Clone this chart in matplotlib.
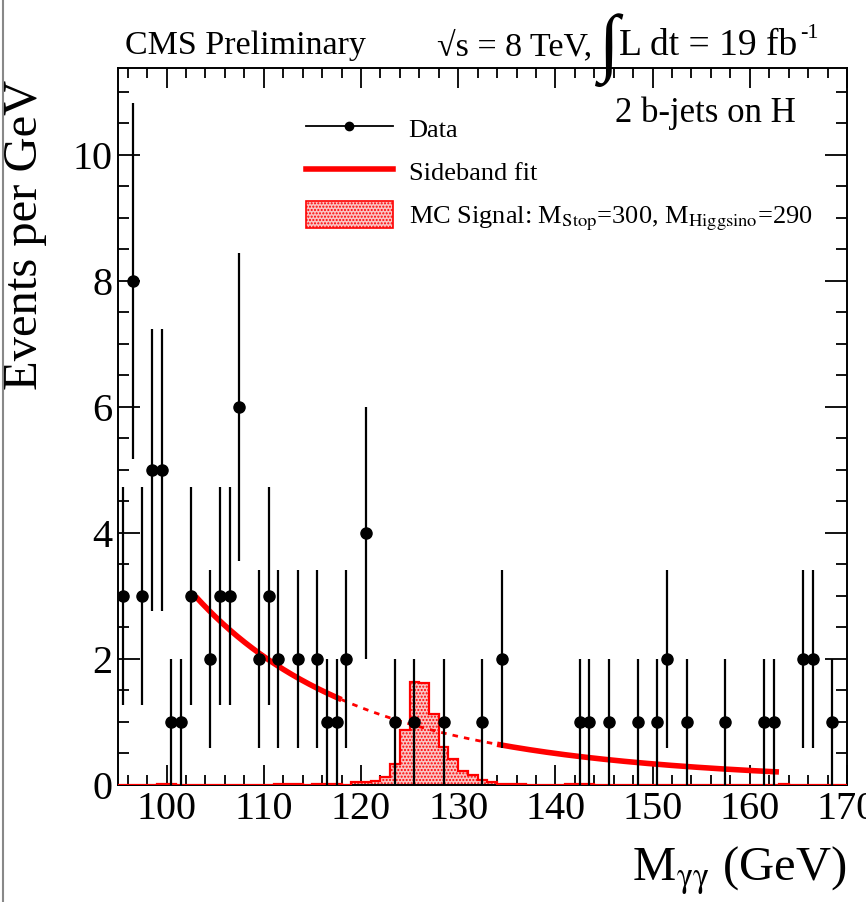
import numpy as np
import matplotlib
matplotlib.use("Agg")
import matplotlib.pyplot as plt
from matplotlib.lines import Line2D
from matplotlib.patches import Patch

plt.rcParams['font.family'] = ['Liberation Serif', 'DejaVu Serif']
plt.rcParams['mathtext.fontset'] = 'stix'
plt.rcParams['hatch.linewidth'] = 1.0

# Observed diphoton events, 1 GeV bins (bin centres, counts)
data_mass = [95.5, 96.5, 97.5, 98.5, 99.5, 100.5, 101.5, 102.5, 104.5, 105.5,
             106.5, 107.5, 109.5, 110.5, 111.5, 113.5, 115.5, 116.5, 117.5, 118.5,
             120.5, 123.5, 125.5, 128.5, 132.5, 134.5, 142.5, 143.5, 145.5, 148.5,
             150.5, 151.5, 153.5, 157.5, 161.5, 162.5, 165.5, 166.5, 168.5]
data_events = [3, 8, 3, 5, 5, 1, 1, 3, 2, 3,
               3, 6, 2, 3, 2, 2, 2, 1, 1, 2,
               4, 1, 1, 1, 1, 2, 1, 1, 1, 1,
               1, 2, 1, 1, 1, 1, 2, 2, 1]

# MC signal (M_Stop=300, M_Higgsino=290), events per 1 GeV bin from 95 to 170
signal_edges = list(range(95, 171))
signal_nonzero = {99: 0.01, 100: 0.01, 111: 0.01, 112: 0.01, 113: 0.01,
                  115: 0.01, 116: 0.01, 117: 0.01, 119: 0.04, 120: 0.04,
                  121: 0.06, 122: 0.13, 123: 0.33, 124: 0.87, 125: 1.64,
                  126: 1.62, 127: 1.13, 128: 0.61, 129: 0.42, 130: 0.23,
                  131: 0.16, 132: 0.08, 133: 0.05, 134: 0.02, 135: 0.01,
                  136: 0.01, 141: 0.01, 142: 0.01, 143: 0.01, 163: 0.01}
signal_values = [signal_nonzero.get(lo, 0.0) for lo in signal_edges[:-1]]

# Sideband fit: power law N * (m / m0)^(-k)
fit_norm = 2.99
fit_m0 = 103.0
fit_index = 5.82
fit_low_range = (103.0, 118.0)
fit_blind_range = (118.0, 134.0)
fit_high_range = (134.0, 163.0)


def sideband(m):
    return fit_norm * (m / fit_m0) ** (-fit_index)


W, H = 866, 902
fig = plt.figure(figsize=(W / 100, H / 100), dpi=100)
ax = fig.add_axes([118 / W, 1 - 785 / H, (847 - 118) / W, (785 - 68) / H])

ax.set_xlim(95, 170)
ax.set_ylim(0, 11.38)

# signal histogram: stippled fill plus outline
ax.stairs(signal_values, signal_edges, fill=True, facecolor='#f9c4c4',
          edgecolor='#ff0000', hatch='.....', linewidth=0, zorder=2)
ax.stairs(signal_values, signal_edges, color='#ff0000', linewidth=1.6, zorder=3)

# sideband fit, dashed inside the blinded window
for (lo, hi), style, lw in [(fit_low_range, '-', 4.0),
                            (fit_blind_range, (0, (2.0, 2.2)), 2.0),
                            (fit_high_range, '-', 4.0)]:
    m = np.linspace(lo, hi, 200)
    ax.plot(m, sideband(m), color='#ff0000', linestyle=style, linewidth=lw,
            solid_capstyle='butt', zorder=4)

# data points with sqrt(N) errors
ev = np.array(data_events, dtype=float)
ax.errorbar(data_mass, ev, yerr=np.sqrt(ev), fmt='o', color='black',
            markersize=8, elinewidth=1.6, capsize=0, zorder=5)

# axes styling
for s in ax.spines.values():
    s.set_linewidth(1.4)
ax.set_xticks([100, 110, 120, 130, 140, 150, 160, 170])
ax.set_xticks(np.arange(96, 171, 2), minor=True)
ax.set_yticks([0, 2, 4, 6, 8, 10])
ax.set_yticks(np.arange(0, 11.3, 0.5), minor=True)
ax.tick_params(which='both', direction='in', top=True, right=True, width=1.3,
               labelsize=29)
ax.tick_params(axis='x', which='major', length=14.5, pad=4)
ax.tick_params(axis='x', which='minor', length=7)
ax.tick_params(axis='y', which='major', length=16, pad=4)
ax.tick_params(axis='y', which='minor', length=8)

ax.set_xlabel('M$_{\\rm γγ}$ (GeV)', fontsize=35, loc='right')
ax.xaxis.set_label_coords(1.0, -0.083)
ax.xaxis.label.set_va('top')
ax.set_ylabel('Events per GeV', fontsize=35, loc='top')
ax.yaxis.set_label_coords(-0.097, 0.983)

# header texts
fig.text(125 / W, 1 - 46 / H, 'CMS Preliminary', fontsize=24.5, ha='left',
         va='center')
fig.text(592 / W, 1 - 46 / H, '√s = 8 TeV,', fontsize=24.5, ha='right',
         va='center')
fig.text(609 / W, 1 - 50 / H, '∫', fontsize=54, ha='center', va='center',
         fontweight='bold')
fig.text(619 / W, 1 - 46 / H, 'L dt = 19 fb', fontsize=27,
         ha='left', va='center')
fig.text(800 / W, 1 - 33 / H, '-1', fontsize=16, ha='left', va='center')
ax.text(0.93, 0.937, '2 b-jets on H', transform=ax.transAxes, fontsize=25,
        ha='right', va='center')

handles = [
    Line2D([], [], color='black', linewidth=1.3, marker='o', markersize=6),
    Line2D([], [], color='#ff0000', linewidth=4.0),
    Patch(facecolor='#f9c4c4', edgecolor='#ff0000', hatch='.....', linewidth=1.2),
]
labels = ['Data', 'Sideband fit',
          'MC Signal: M$_{\\rm Stop}$=300, M$_{\\rm Higgsino}$=290']
ax.legend(handles, labels, loc='upper left', bbox_to_anchor=(0.225, 0.968),
          frameon=False, fontsize=19, handlelength=3.3, handleheight=1.2,
          handletextpad=0.6, labelspacing=0.6)

# canvas border on the left
fig.add_artist(Line2D([2.5 / W, 2.5 / W], [0, 1], color='#888888',
                      linewidth=1.5, transform=fig.transFigure))

fig.savefig('out.png', dpi=100)
